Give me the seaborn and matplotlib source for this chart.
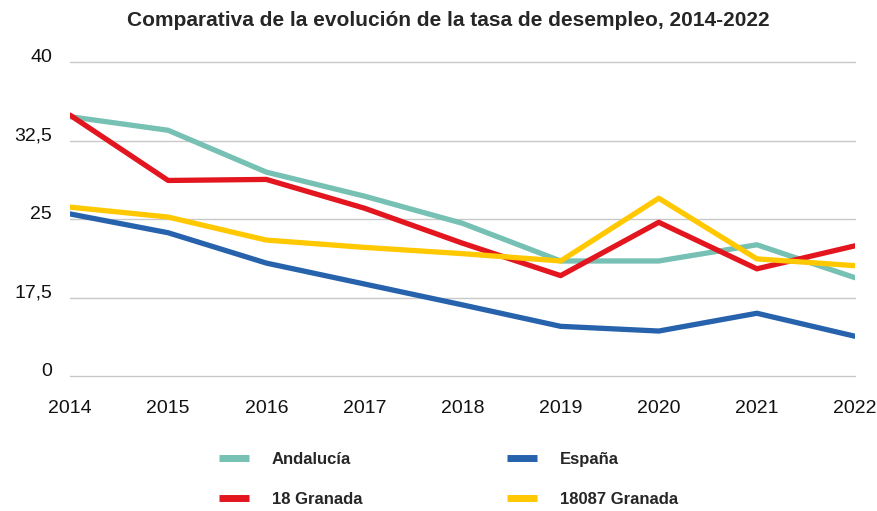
import numpy as np
import pandas as pd
import matplotlib
matplotlib.use("Agg")
import matplotlib.pyplot as plt
import seaborn as sns

years = [2014, 2015, 2016, 2017, 2018, 2019, 2020, 2021, 2022]
andalucia = [34.8, 33.5, 29.5, 27.2, 24.6, 21.0, 21.0, 22.55, 19.4]
espana = [25.5, 23.7, 20.8, 18.8, 16.8, 14.75, 14.3, 16.0, 13.8]
granada_prov = [34.95, 28.7, 28.8, 26.05, 22.7, 19.6, 24.7, 20.25, 22.45]
granada_mun = [26.15, 25.2, 23.0, 22.3, 21.7, 21.0, 27.0, 21.2, 20.55]

series_names = ["Andalucía", "18 Granada", "España", "18087 Granada"]
series_colors = ["#76C0B4", "#E3151F", "#2762AC", "#FFC800"]
y_ticks = [10, 17.5, 25, 32.5, 40]
y_tick_labels = ["0", "17,5", "25", "32,5", "40"]

df = pd.DataFrame({
    "year": years * 4,
    "tasa": andalucia + granada_prov + espana + granada_mun,
    "serie": np.repeat(series_names, len(years)),
})

sns.set_theme(style="white")
plt.rcParams["font.family"] = ["Liberation Sans", "DejaVu Sans"]

fig = plt.figure(figsize=(8.78, 5.11), dpi=100)
ax = fig.add_axes([70 / 878, 1 - 376 / 511, 785 / 878, 313.7 / 511])

sns.lineplot(data=df, x="year", y="tasa", hue="serie", hue_order=series_names,
             palette=series_colors, linewidth=3.8, ax=ax, legend=False)

ax.set_xlim(2014, 2022)
ax.set_ylim(10, 40)
ax.set_xticks(years)
ax.set_xticklabels([str(y) for y in years], fontsize=14, color="#111111")
ax.set_yticks(y_ticks)
ax.set_yticklabels(y_tick_labels, fontsize=14, color="#111111")
for lab in ax.get_yticklabels():
    lab.set_verticalalignment("baseline")
ax.tick_params(axis="x", length=0, pad=17)
ax.tick_params(axis="y", length=0, pad=13)
ax.set_xlabel("")
ax.set_ylabel("")
ax.grid(axis="y", color="#c8c8c8", linewidth=1.0)
ax.grid(axis="x", visible=False)
for gl in ax.get_ygridlines():
    gl.set_clip_on(False)
ax.set_axisbelow(True)
for s in ax.spines.values():
    s.set_visible(False)

fig.text(448 / 878, 1 - 20 / 511, "Comparativa de la evolución de la tasa de desempleo, 2014-2022",
         ha="center", va="center", fontsize=15, fontweight="bold")

handles = [plt.Line2D([], [], color=c, linewidth=5, solid_capstyle="butt") for c in series_colors]
fig.legend(handles, series_names, loc="center left", bbox_to_anchor=(204 / 878, 1 - 479 / 511),
           ncol=2, frameon=False, handlelength=1.8, handletextpad=1.35, columnspacing=8.7,
           labelspacing=1.5, prop={"weight": "bold", "size": 12})

plt.savefig("out.png", dpi=100)
plt.close()
